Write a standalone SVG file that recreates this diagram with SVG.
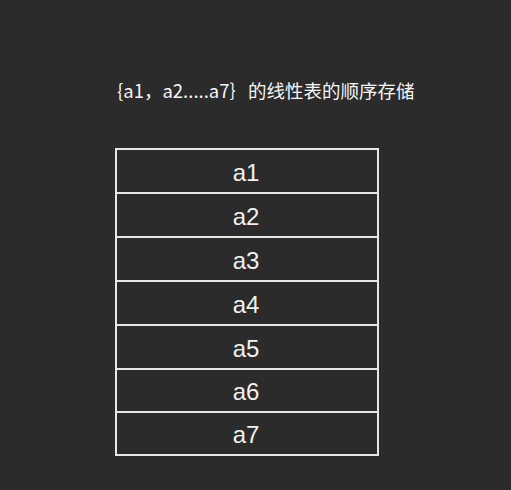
<svg xmlns="http://www.w3.org/2000/svg" width="511" height="490" viewBox="0 0 511 490">
<style>
.bg{fill:#2b2b2b}
.cell rect{fill:#2b2b2b;stroke:#e6e6e6;stroke-width:2}
.cell text{fill:#f0f0f0;font-family:"Liberation Sans",Arial,sans-serif;font-size:24px;text-anchor:middle}
.title{fill:#f5f5f5;font-family:"Noto Sans CJK SC","Noto Sans",sans-serif;font-size:18.5px}
</style>
<rect class="bg" x="0" y="0" width="511" height="490"/>
<text class="title" x="117" y="98">{a1，a2.....a7｝的线性表的顺序存储</text>
<g id="a1" class="cell"><rect x="116" y="149" width="262" height="44"/><text x="246" y="181">a1</text></g>
<g id="a2" class="cell"><rect x="116" y="193" width="262" height="44"/><text x="246" y="225">a2</text></g>
<g id="a3" class="cell"><rect x="116" y="237" width="262" height="44"/><text x="246" y="269">a3</text></g>
<g id="a4" class="cell"><rect x="116" y="281" width="262" height="44"/><text x="246" y="313">a4</text></g>
<g id="a5" class="cell"><rect x="116" y="325" width="262" height="44"/><text x="246" y="357">a5</text></g>
<g id="a6" class="cell"><rect x="116" y="369" width="262" height="43"/><text x="246" y="400">a6</text></g>
<g id="a7" class="cell"><rect x="116" y="412" width="262" height="43"/><text x="246" y="443">a7</text></g>
<g id="connectors"></g>
</svg>
